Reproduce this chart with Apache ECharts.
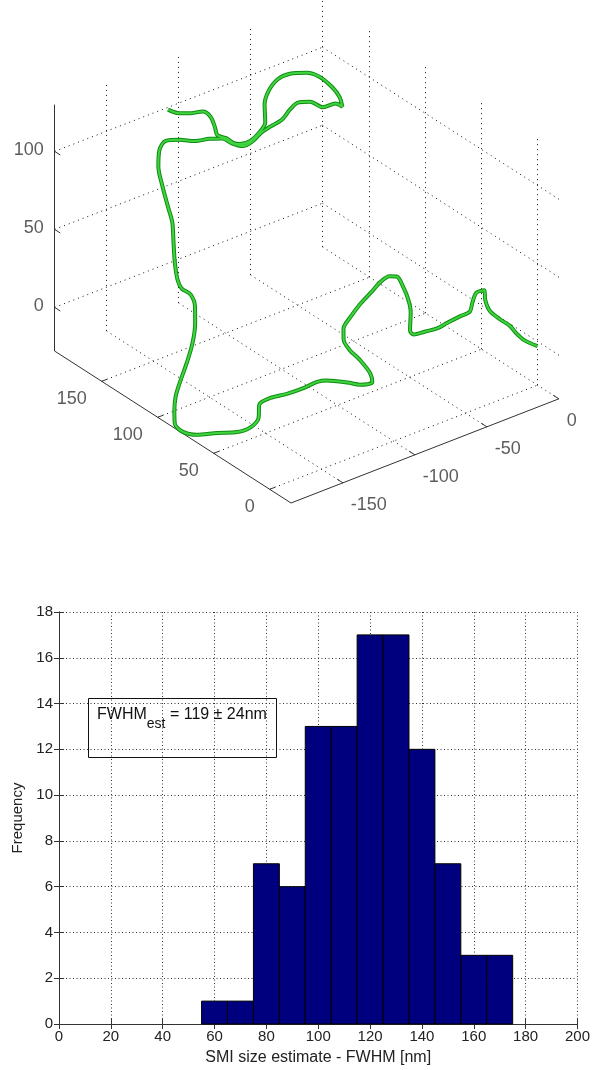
<!DOCTYPE html>
<html>
<head>
<meta charset="utf-8">
<style>
  html, body { margin: 0; padding: 0; background: #fff; }
  .cmp_main { width: 593px; height: 1070px; }
</style>
<script src="https://cdn.jsdelivr.net/npm/echarts@6/dist/echarts.min.js"></script>
</head>
<body>
<div class="cmp_main" id="mychart1"></div>
<script>
// 三维轨迹（单位 nm），按截图估读
const pathX = [-112,-107,-101,-94,-91,-91,-91,-86,-83,-80,-74,-69,-67,-69,-68,-63,-56,-46,-38,-29,
  -24,-22,-26,-34,-42,-49,-53,-57,-64,-68,-73,-78,-84,-89,-98,-109,-121,-133,-139,-142,
  -143,-143,-144,-147,-150,-152,-153,-150,-150,-153,-158,-165,-173,-179,-183,-185,-186,-183,-178,-172,
  -168,-165,-166,-160,-150,-140,-132,-127,-114,-107,-100,-100,-104,-108,-109,-106,-98,-88,-77,-68,
  -60,-55,-52,-50,-50,-52,-51,-46,-41,-37,-31,-26,-25,-23,-19,-20,-20,-16,-12,-10,-7,0];
const pathY = [186,184,181,178,175,171,169,167,165,163,161,159,157,155,153,151,149,147,146,146,
  146,146,147,148,149,151,153,155,157,159,161,163,165,167,167,166,164,161,159,156,
  151,146,141,136,131,126,121,117,113,109,105,101,97,93,89,86,78,69,57,47,
  41,37,35,33,31,29,27,25,23,21,19,21,25,29,33,37,41,45,49,53,
  55,55,53,51,49,47,45,41,37,33,29,27,26,25,23,21,17,13,9,6,3,0];
const pathZ = [103,100,99,99,96,91,87,84,81,80,81,86,92,105,114,121,123,121,116,106,
  98,91,94,94,100,101,97,91,88,85,80,78,81,85,88,91,97,102,99,91,
  81,70,63,53,44,36,33,30,24,16,7,-1,-9,-14,-20,-26,-27,-26,-21,-18,
  -14,-7,3,6,6,7,9,9,4,1,1,6,14,20,25,29,32,35,37,38,
  38,36,29,21,14,4,2,4,6,10,14,16,22,28,29,24,19,14,10,6,2,-3];

// 三维刻度
const xTicks3d = [-150, -100, -50, 0];
const yTicks3d = [0, 50, 100, 150];
const zTicks3d = [0, 50, 100];

// 直方图
const binCenters = [60, 70, 80, 90, 100, 110, 120, 130, 140, 150, 160, 170];
const binCounts = [1, 1, 7, 6, 13, 13, 17, 17, 12, 7, 3, 3];
const binWidth = 10;

// 坐标盒范围 + 视角投影（像素/单位）
const box3d = { xmin: -186, xmax: 0, ymin: -19, ymax: 192, zmin: -28, zmax: 130 };
const view3d = { ox: 291, oy: 503, ex: [1.44, -0.56], ey: [-1.12, -0.72], ez: [0, -1.56] };

const FONT = "'Liberation Sans', Arial, sans-serif";
let vmt = {};

function proj(x, y, z) {
  let a = x - box3d.xmin, b = y - box3d.ymin, c = z - box3d.zmin;
  return [
    view3d.ox + a * view3d.ex[0] + b * view3d.ey[0] + c * view3d.ez[0],
    view3d.oy + a * view3d.ex[1] + b * view3d.ey[1] + c * view3d.ez[1]
  ];
}
function seg(p, q) {
  return { coords: [proj(p[0], p[1], p[2]), proj(q[0], q[1], q[2])] };
}

//创建option
function createOption() {
  let b = box3d;
  // 网格虚线：底面 + 两个后墙
  let gridSegs = [];
  xTicks3d.forEach(x => {
    gridSegs.push(seg([x, b.ymin, b.zmin], [x, b.ymax, b.zmin]));
    gridSegs.push(seg([x, b.ymax, b.zmin], [x, b.ymax, b.zmax]));
  });
  yTicks3d.forEach(y => {
    gridSegs.push(seg([b.xmin, y, b.zmin], [b.xmax, y, b.zmin]));
    gridSegs.push(seg([b.xmax, y, b.zmin], [b.xmax, y, b.zmax]));
  });
  zTicks3d.forEach(z => {
    gridSegs.push(seg([b.xmin, b.ymax, z], [b.xmax, b.ymax, z]));
    gridSegs.push(seg([b.xmax, b.ymin, z], [b.xmax, b.ymax, z]));
  });
  // 坐标轴实线
  let axisSegs = [
    seg([b.xmin, b.ymax, b.zmin], [b.xmin, b.ymax, b.zmax]),
    seg([b.xmin, b.ymin, b.zmin], [b.xmin, b.ymax, b.zmin]),
    seg([b.xmin, b.ymin, b.zmin], [b.xmax, b.ymin, b.zmin])
  ];
  zTicks3d.forEach(z => axisSegs.push(seg([b.xmin, b.ymax, z], [b.xmin, b.ymax - 5, z])));
  yTicks3d.forEach(y => axisSegs.push(seg([b.xmin, y, b.zmin], [b.xmin + 4, y, b.zmin])));
  xTicks3d.forEach(x => axisSegs.push(seg([x, b.ymin, b.zmin], [x, b.ymin + 5, b.zmin])));

  let pathPts = pathX.map((x, i) => proj(x, pathY[i], pathZ[i]));

  let labelSeries = function (ticks, pt, align, offset) {
    return {
      type: 'scatter', xAxisIndex: 0, yAxisIndex: 0, symbolSize: 1, silent: true,
      itemStyle: { color: 'transparent' },
      data: ticks.map(t => ({ name: '' + t, value: pt(t) })),
      label: {
        show: true, formatter: '{b}', position: 'inside', align: align, verticalAlign: 'middle',
        offset: offset, fontSize: 18, fontFamily: FONT, color: '#333'
      }
    };
  };

  let optionTime = {
    animation: false,
    backgroundColor: '#fff',
    grid: [
      { left: 0, top: 0, width: 593, height: 560 },
      { left: 59, top: 612, width: 522, height: 412 }
    ],
    xAxis: [
      { gridIndex: 0, type: 'value', min: 0, max: 593, show: false },
      {
        gridIndex: 1, type: 'value', min: 0, max: 200, interval: 20, position: 'bottom',
        name: 'SMI size estimate - FWHM [nm]', nameLocation: 'middle', nameGap: 26,
        nameTextStyle: { fontSize: 16, fontFamily: FONT, color: '#222' },
        axisLine: { lineStyle: { color: '#333' } },
        axisTick: { inside: true, length: 5, lineStyle: { color: '#333' } },
        axisLabel: { fontSize: 15, fontFamily: FONT, color: '#222', margin: 5 },
        splitLine: { show: true, lineStyle: { color: '#333', type: [1, 2.5] } }
      },
      {
        gridIndex: 1, type: 'value', min: 0, max: 200, interval: 20, position: 'top',
        axisLine: { lineStyle: { color: '#333' } },
        axisTick: { inside: true, length: 5, lineStyle: { color: '#333' } },
        axisLabel: { show: false }, splitLine: { show: false }
      }
    ],
    yAxis: [
      { gridIndex: 0, type: 'value', min: 0, max: 560, inverse: true, show: false },
      {
        gridIndex: 1, type: 'value', min: 0, max: 18, interval: 2, position: 'left',
        name: 'Frequency', nameLocation: 'middle', nameGap: 32,
        nameTextStyle: { fontSize: 15, fontFamily: FONT, color: '#222' },
        axisLine: { show: true, lineStyle: { color: '#333' } },
        axisTick: { show: true, inside: true, length: 5, lineStyle: { color: '#333' } },
        axisLabel: { fontSize: 15, fontFamily: FONT, color: '#222', margin: 6 },
        splitLine: { show: true, lineStyle: { color: '#333', type: [1, 2.5] } }
      },
      {
        gridIndex: 1, type: 'value', min: 0, max: 18, interval: 2, position: 'right',
        axisLine: { show: true, lineStyle: { color: '#333' } },
        axisTick: { show: true, inside: true, length: 5, lineStyle: { color: '#333' } },
        axisLabel: { show: false }, splitLine: { show: false }
      }
    ],
    graphic: [
      {
        type: 'rect', z: 10, shape: { x: 88.5, y: 698.5, width: 188, height: 59 },
        style: { fill: 'none', stroke: '#111', lineWidth: 1 }
      },
      {
        type: 'text', z: 10, x: 97, y: 707,
        style: {
          text: '{m|FWHM}{s|est}{m| = 119 ± 24nm}',
          fill: '#111',
          rich: {
            m: { fontSize: 16, fontFamily: FONT, lineHeight: 16, verticalAlign: 'top', fill: '#111' },
            s: { fontSize: 14, fontFamily: FONT, lineHeight: 24, verticalAlign: 'bottom', fill: '#111' }
          }
        }
      }
    ],
    series: [
      //网格
      {
        type: 'lines', coordinateSystem: 'cartesian2d', xAxisIndex: 0, yAxisIndex: 0, silent: true,
        lineStyle: { color: '#111', width: 1, type: [1, 4], opacity: 1 },
        data: gridSegs
      },
      //轴线和刻度
      {
        type: 'lines', coordinateSystem: 'cartesian2d', xAxisIndex: 0, yAxisIndex: 0, silent: true,
        lineStyle: { color: '#333', width: 1, opacity: 1 },
        data: axisSegs
      },
      labelSeries(zTicks3d, t => proj(b.xmin, b.ymax, t), 'right', [-11, -1]),
      labelSeries(yTicks3d, t => proj(b.xmin, t, b.zmin), 'right', [-15, 18]),
      labelSeries(xTicks3d, t => proj(t, b.ymin, b.zmin), 'left', [8, 22]),
      //轨迹
      {
        type: 'line', xAxisIndex: 0, yAxisIndex: 0, data: pathPts, symbol: 'none', smooth: 0.3,
        lineStyle: { color: '#0f8c12', width: 4 }, z: 5
      },
      {
        type: 'line', xAxisIndex: 0, yAxisIndex: 0, data: pathPts, symbol: 'none', smooth: 0.3,
        lineStyle: { color: '#3fd33f', width: 2 }, z: 6
      },
      //直方图
      {
        type: 'custom', xAxisIndex: 1, yAxisIndex: 1,
        data: binCenters.map((c, i) => [c, binCounts[i]]),
        encode: { x: 0, y: 1 },
        renderItem: function (params, api) {
          let c = api.value(0), n = api.value(1);
          let p0 = api.coord([c - binWidth / 2, n]);
          let p1 = api.coord([c + binWidth / 2, 0]);
          return {
            type: 'rect',
            shape: { x: p0[0], y: p0[1], width: p1[0] - p0[0], height: p1[1] - p0[1] },
            style: { fill: '#00007f', stroke: '#000', lineWidth: 1 }
          };
        }
      }
    ]
  };
  return optionTime;
}

vmt.mychart1 = echarts.init(document.getElementById('mychart1'));
vmt.mychart1.setOption(createOption());
</script>
</body>
</html>
